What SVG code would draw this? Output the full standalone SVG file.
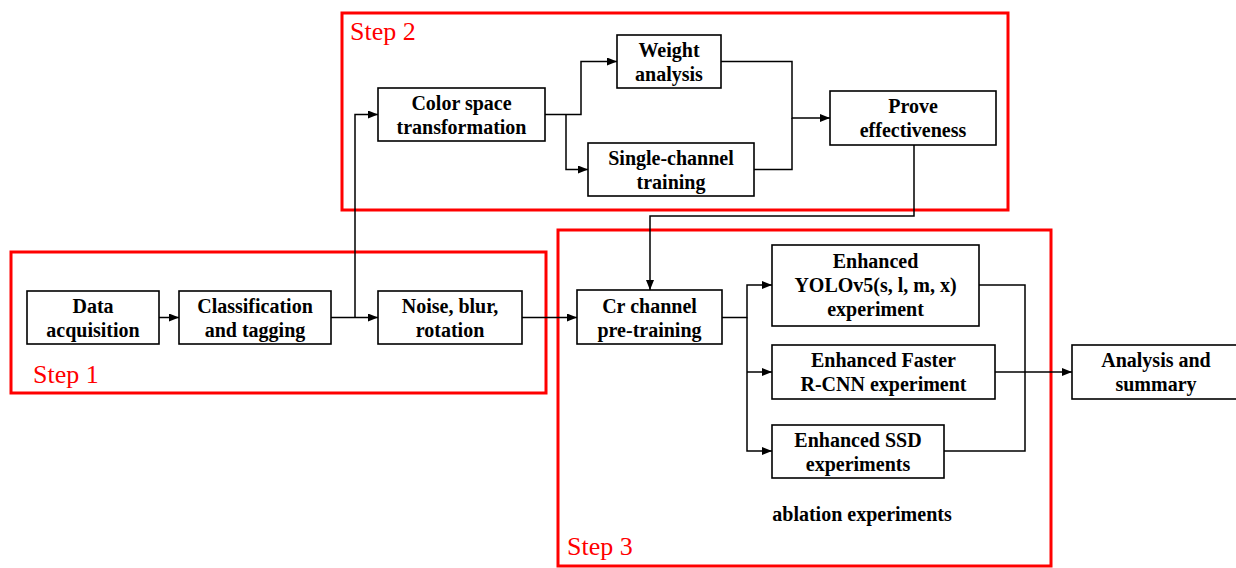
<svg xmlns="http://www.w3.org/2000/svg" width="1236" height="568" viewBox="0 0 1236 568">
<style>
.bg{fill:#fff}
.node rect{fill:#fff;stroke:#000;stroke-width:1.6}
.node text,.note{font-family:"Liberation Serif","Times New Roman",serif;font-weight:bold;font-size:20px;fill:#000;text-anchor:middle}
.step rect{fill:none;stroke:#ff0000;stroke-width:3}
.step text{font-family:"Liberation Serif",serif;font-size:26px;fill:#ff0000}
.conn path{fill:none;stroke:#000;stroke-width:1.5}
</style>
<defs>
<marker id="ah" markerUnits="userSpaceOnUse" markerWidth="10" markerHeight="10" refX="10" refY="4" orient="auto">
<path d="M0,0 L10,4 L0,8 z" fill="#000"/>
</marker>
</defs>
<rect class="bg" x="0" y="0" width="1236" height="568"/>

<g id="step1" class="step"><rect x="11" y="252" width="535" height="141"/><text x="33" y="383">Step 1</text></g>
<g id="step2" class="step"><rect x="342" y="13" width="666" height="197"/><text x="350" y="40">Step 2</text></g>
<g id="step3" class="step"><rect x="558" y="230" width="493" height="336"/><text x="567" y="555">Step 3</text></g>

<g id="connectors" class="conn">
<path d="M159,317.5 H179" marker-end="url(#ah)"/>
<path d="M331,317.5 H378" marker-end="url(#ah)"/>
<path d="M355,317.5 V114.5 H378" marker-end="url(#ah)"/>
<path d="M522,317.5 H577" marker-end="url(#ah)"/>
<path d="M545,114.5 H581 V61.5 H617" marker-end="url(#ah)"/>
<path d="M566,114.5 V169.5 H588" marker-end="url(#ah)"/>
<path d="M721,61.5 H792 V118 H830" marker-end="url(#ah)"/>
<path d="M754,169.5 H792 V118"/>
<path d="M914,145 V216 H650 V290" marker-end="url(#ah)"/>
<path d="M722,317.5 H747 V285 H772" marker-end="url(#ah)"/>
<path d="M747,317.5 V451 H772" marker-end="url(#ah)"/>
<path d="M747,372 H772" marker-end="url(#ah)"/>
<path d="M979,285 H1025 V451 H944"/>
<path d="M995,372 H1072" marker-end="url(#ah)"/>
</g>

<g id="data" class="node"><rect x="27" y="291" width="132" height="53"/><text x="93" y="312.5">Data</text><text x="93" y="336.5">acquisition</text></g>
<g id="classify" class="node"><rect x="179" y="291" width="152" height="53"/><text x="255" y="312.5">Classification</text><text x="255" y="336.5">and tagging</text></g>
<g id="noise" class="node"><rect x="378" y="291" width="144" height="53"/><text x="450" y="312.5">Noise, blur,</text><text x="450" y="336.5">rotation</text></g>
<g id="color" class="node"><rect x="378" y="88" width="167" height="53"/><text x="461.5" y="109.5">Color space</text><text x="461.5" y="133.5">transformation</text></g>
<g id="weight" class="node"><rect x="617" y="35" width="104" height="53"/><text x="669" y="56.5">Weight</text><text x="669" y="80.5">analysis</text></g>
<g id="single" class="node"><rect x="588" y="143" width="166" height="53"/><text x="671" y="164.5">Single-channel</text><text x="671" y="188.5">training</text></g>
<g id="prove" class="node"><rect x="830" y="91" width="166" height="54"/><text x="913" y="113">Prove</text><text x="913" y="137">effectiveness</text></g>
<g id="cr" class="node"><rect x="577" y="290" width="145" height="54"/><text x="649.5" y="312.5">Cr channel</text><text x="649.5" y="336.5">pre-training</text></g>
<g id="yolo" class="node"><rect x="772" y="245" width="207" height="81"/><text x="875.5" y="268">Enhanced</text><text x="875.5" y="292">YOLOv5(s, l, m, x)</text><text x="875.5" y="316">experiment</text></g>
<g id="faster" class="node"><rect x="772" y="345" width="223" height="54"/><text x="883.5" y="367">Enhanced Faster</text><text x="883.5" y="391">R-CNN experiment</text></g>
<g id="ssd" class="node"><rect x="772" y="425" width="172" height="53"/><text x="858" y="446.5">Enhanced SSD</text><text x="858" y="470.5">experiments</text></g>
<g id="analysis" class="node"><rect x="1072" y="345" width="170" height="54"/><text x="1156" y="367">Analysis and</text><text x="1156" y="391">summary</text></g>
<text class="note" x="862" y="521">ablation experiments</text>
</svg>
